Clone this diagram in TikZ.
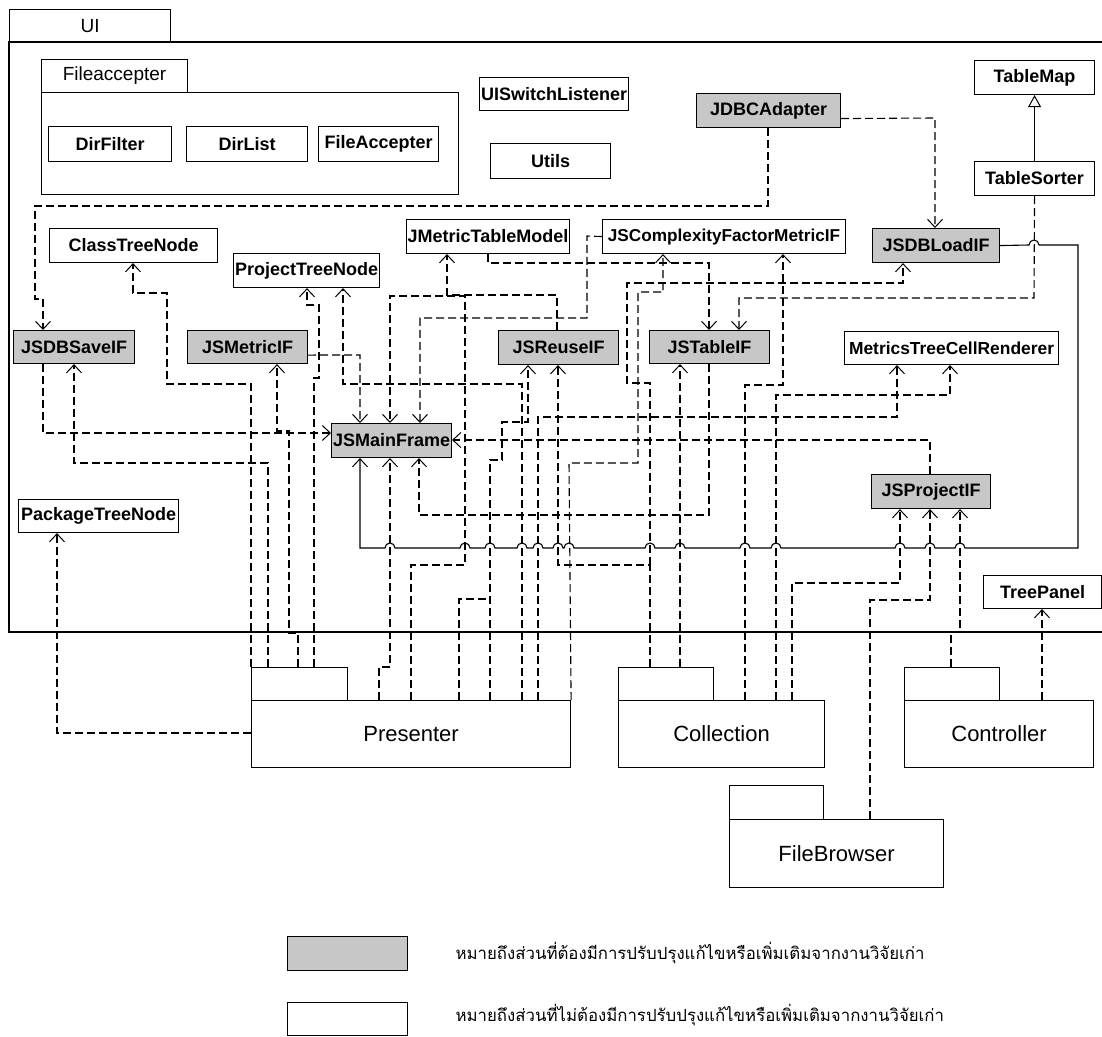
\documentclass[tikz,border=0pt]{standalone}
\usepackage{fontspec}
\setmainfont{Liberation Sans}
\newfontfamily\thaifont[Script=Thai]{Loma}
\usetikzlibrary{arrows.meta}
\begin{document}
\begin{tikzpicture}[x=1pt,y=-1pt,
  box/.style={draw,line width=1.1pt,inner sep=0pt,anchor=north west},
  cls/.style={box,font=\fontsize{18}{20}\selectfont\bfseries},
  chg/.style={cls,fill=black!22},
  tab/.style={box,font=\fontsize{19}{21}\selectfont},
  pkg/.style={box,font=\fontsize{22}{25}\selectfont},
  frame/.style={line width=1.2pt},
  link/.style={line width=1.1pt,dash pattern=on 8pt off 4pt},
  dep/.style={link,-{Straight Barb[length=8pt,width=15pt,line width=1pt]}},
  depbold/.style={dep,line width=1.8pt},
  assoc/.style={line width=1.1pt,-{Straight Barb[length=8pt,width=15pt,line width=1pt]}},
  gen/.style={line width=1.1pt,-{Triangle[open,length=12pt,width=13pt,line width=1pt]}},
  legend/.style={anchor=west,font=\thaifont\fontsize{16.8}{19}\selectfont}
]
\useasboundingbox (0,0) rectangle (1102,1036);

% ---------- UI package ----------
\node[tab,minimum width=161pt,minimum height=33pt] (UItab) at (9,9) {UI};
\draw[frame] (1102,42) -- (9,42) -- (9,632) -- (1102,632);

% Fileaccepter sub-package
\node[tab,minimum width=146pt,minimum height=33pt] (FAtab) at (41,59) {Fileaccepter};
\node[box,minimum width=417pt,minimum height=102pt] (FAbody) at (41,92) {};
\node[cls,minimum width=123pt,minimum height=35pt] (DirFilter) at (48,126) {DirFilter};
\node[cls,minimum width=121pt,minimum height=35pt] (DirList) at (186,126) {DirList};
\node[cls,minimum width=120pt,minimum height=35pt] (FileAccepter) at (318,126) {FileAccepter};

% classes of UI
\node[cls,minimum width=149pt,minimum height=33pt] (UISwitch) at (479,77) {UISwitchListener};
\node[cls,minimum width=120pt,minimum height=35pt] (Utils) at (490,143) {Utils};
\node[chg,minimum width=144pt,minimum height=34pt] (JDBC) at (696,93) {JDBCAdapter};
\node[cls,minimum width=120pt,minimum height=34pt] (TableMap) at (974,60) {TableMap};
\node[cls,minimum width=120pt,minimum height=34pt] (TableSorter) at (974,161) {TableSorter};

\node[cls,minimum width=168pt,minimum height=34pt] (ClassTN) at (49,228) {ClassTreeNode};
\node[cls,minimum width=146pt,minimum height=34pt] (ProjectTN) at (233,253) {ProjectTreeNode};
\node[cls,minimum width=163pt,minimum height=34pt] (JMTM) at (406,219) {JMetricTableModel};
\node[cls,minimum width=243pt,minimum height=34pt,font=\fontsize{17.2}{19}\selectfont\bfseries] (JSCF) at (602,219) {JSComplexityFactorMetricIF};
\node[chg,minimum width=127pt,minimum height=34pt] (JSDBLoad) at (872,228) {JSDBLoadIF};

\node[chg,minimum width=121pt,minimum height=33pt] (JSDBSave) at (13,330) {JSDBSaveIF};
\node[chg,minimum width=120pt,minimum height=33pt] (JSMetric) at (187,330) {JSMetricIF};
\node[chg,minimum width=120pt,minimum height=34pt] (JSReuse) at (498,330) {JSReuseIF};
\node[chg,minimum width=120pt,minimum height=33pt] (JSTable) at (649,330) {JSTableIF};
\node[cls,minimum width=214pt,minimum height=33pt,font=\fontsize{17.4}{19}\selectfont\bfseries] (MTCR) at (844,331) {MetricsTreeCellRenderer};

\node[chg,minimum width=120pt,minimum height=34pt] (JSMain) at (331,423) {JSMainFrame};
\node[chg,minimum width=119pt,minimum height=34pt] (JSProject) at (871,474) {JSProjectIF};
\node[cls,minimum width=160pt,minimum height=33pt] (PackageTN) at (18,499) {PackageTreeNode};
\node[cls,minimum width=118pt,minimum height=33pt] (TreePanel) at (983,575) {TreePanel};

% ---------- other packages ----------
\node[box,minimum width=96pt,minimum height=33pt] (PresenterTab) at (251,667) {};
\node[pkg,minimum width=319pt,minimum height=67pt] (Presenter) at (251,700) {Presenter};
\node[box,minimum width=95pt,minimum height=33pt] (CollectionTab) at (618,667) {};
\node[pkg,minimum width=206pt,minimum height=67pt] (Collection) at (618,700) {Collection};
\node[box,minimum width=95pt,minimum height=33pt] (ControllerTab) at (904,667) {};
\node[pkg,minimum width=189pt,minimum height=67pt] (Controller) at (904,700) {Controller};
\node[box,minimum width=94pt,minimum height=34pt] (FileBrowserTab) at (729,785) {};
\node[pkg,minimum width=214pt,minimum height=68pt] (FileBrowser) at (729,819) {FileBrowser};

% junction points where two dependencies share a route
\coordinate (ReuseJoin) at (490,599);
\coordinate (CollJoin) at (650,565);

% ---------- relations ----------
\draw[gen] (TableSorter.north) -- (TableMap.south);
\draw[dep] (JDBC.south -| 768,0) -- (768,206) -- (35,206) -- (35,299) -- (43,299) -- (JSDBSave.north -| 43,0);
\draw[dep] ([yshift=-8pt]JDBC.east) -- (935,118) -- (JSDBLoad.north -| 935,0);
\draw[dep] (TableSorter.south) -- (1034,298) -- (739,298) -- (JSTable.north -| 739,0);
\draw[dep] (JMTM.south -| 488,0) -- (488,263) -- (709,263) -- (JSTable.north -| 709,0);
\draw[dep] (JSReuse.north -| 557,0) -- (557,295) -- (447,295) -- (JMTM.south -| 447,0);
\draw[dep] (JSCF.west) -- (587,236) -- (587,318) -- (420,318) -- (JSMain.north -| 420,0);
\draw[dep] ([yshift=-8pt]JSMetric.east) -- (360,355) -- (JSMain.north -| 360,0);
\draw[dep] (Presenter.north -| 411,0) -- (411,565) -- (465,565) -- (465,296) -- (390,296) -- (JSMain.north -| 390,0);
\draw[dep] (JSDBSave.south -| 43,0) -- (43,433) -- (JSMain.west |- 0,433);
\draw[dep] (Presenter.north -| 379,0) -- (379,667) -- (390,667) -- (JSMain.south -| 390,0);
\draw[depbold] (JSTable.south -| 709,0) -- (709,515) -- (419,515) -- (JSMain.south -| 419,0);
\draw[dep] (PresenterTab.north -| 298,0) -- (298,633) -- (289,633) -- (289,431) -- (277,431) -- (JSMetric.south -| 277,0);
\draw[dep] (PresenterTab.north -| 268,0) -- (268,463) -- (74,463) -- (JSDBSave.south -| 74,0);
\draw[dep] (PresenterTab.north west) -- (251,384) -- (167,384) -- (167,293) -- (133,293) -- (ClassTN.south -| 133,0);
\draw[dep] (PresenterTab.north -| 314,0) -- (314,378) -- (319,378) -- (319,305) -- (307,305) -- (ProjectTN.south -| 307,0);
\draw[dep] (Presenter.west |- 0,733) -- (57,733) -- (PackageTN.south -| 57,0);
\draw[dep] (Presenter.north -| 490,0) -- (ReuseJoin) -- (490,460) -- (502,460) -- (502,422) -- (528,422) -- (JSReuse.south -| 528,0);
\draw[link] (Presenter.north -| 459,0) -- (459,599) -- (ReuseJoin);
\draw[dep] (Presenter.north -| 522,0) -- (522,384) -- (343,384) -- (ProjectTN.south -| 343,0);
\draw[dep] (Presenter.north -| 538,0) -- (538,417) -- (897,417) -- (MTCR.south -| 897,0);
\draw[dep] (Presenter.north east) -- (569,463) -- (638,463) -- (638,292) -- (663,292) -- (JSCF.south -| 663,0);
\draw[dep] (CollectionTab.north -| 650,0) -- (CollJoin) -- (558,565) -- (JSReuse.south -| 558,0);
\draw[dep] (CollJoin) -- (650,383) -- (627,383) -- (627,283) -- (903,283) -- (JSDBLoad.south -| 903,0);
\draw[dep] (CollectionTab.north -| 680,0) -- (JSTable.south -| 680,0);
\draw[dep] (Collection.north -| 745,0) -- (745,385) -- (783,385) -- (JSCF.south -| 783,0);
\draw[dep] (Collection.north -| 776,0) -- (776,395) -- (950,395) -- (MTCR.south -| 950,0);
\draw[dep] (Collection.north -| 792,0) -- (792,583) -- (900,583) -- (JSProject.south -| 900,0);
\draw[dep] (FileBrowser.north -| 870,0) -- (870,600) -- (930,600) -- (JSProject.south -| 930,0);
\draw[dep] (ControllerTab.north -| 951,0) -- (951,632) -- (960,632) -- (JSProject.south -| 960,0);
\draw[dep] (Controller.north -| 1042,0) -- (TreePanel.south -| 1042,0);
\draw[dep] (JSProject.north -| 930,0) -- (930,440) -- (JSMain.east |- 0,440);

% association from JSDBLoadIF to JSMainFrame, hopping over crossing lines
\draw[assoc] (JSDBLoad.east) -- (1029,245) arc[start angle=180,end angle=0,radius=5pt]
  -- (1078,245) -- (1078,548)
  \foreach \h in {960,930,900,776,745,680,650,569,558,538,522,490,465,390} {
    -- (\h+5,548) arc[start angle=0,end angle=180,radius=5pt] }
  -- (360,548) -- (JSMain.south -| 360,0);

% ---------- legend ----------
\node[box,fill=black!22,minimum width=120pt,minimum height=34pt] (KeyChanged) at (287,936) {};
\node[box,minimum width=120pt,minimum height=33pt] (KeySame) at (287,1002) {};
\node[legend] (KeyChangedText) at (452,953) {หมายถึงส่วนที่ต้องมีการปรับปรุงแก้ไขหรือเพิ่มเติมจากงานวิจัยเก่า};
\node[legend] (KeySameText) at (452,1015) {หมายถึงส่วนที่ไม่ต้องมีการปรับปรุงแก้ไขหรือเพิ่มเติมจากงานวิจัยเก่า};
\end{tikzpicture}
\end{document}
